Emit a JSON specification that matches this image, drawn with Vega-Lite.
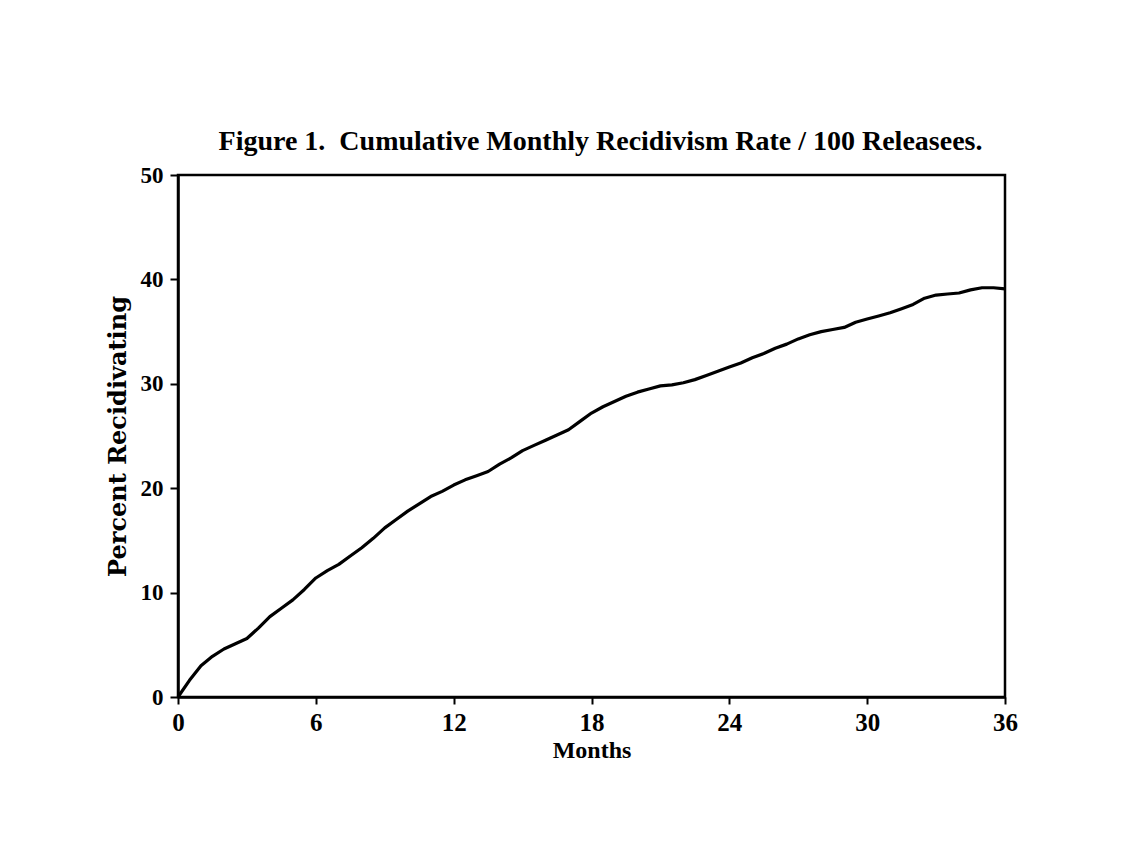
{
  "$schema": "https://vega.github.io/schema/vega-lite/v6.json",
  "autosize": "none",
  "width": 827,
  "height": 522,
  "padding": {"left": 178, "top": 175, "right": 126, "bottom": 154},
  "background": "white",
  "title": {
    "text": "Figure 1.\u00a0 Cumulative Monthly Recidivism Rate / 100 Releasees.",
    "font": "Liberation Serif",
    "fontSize": 28,
    "fontWeight": "bold",
    "color": "black",
    "anchor": "middle",
    "dx": 9,
    "baseline": "alphabetic",
    "offset": -14
  },
  "config": {
    "view": {"stroke": "black", "strokeWidth": 2.5},
    "axis": {
      "labelFont": "Liberation Serif",
      "labelFontWeight": "bold",
      "labelColor": "black",
      "titleFont": "Liberation Serif",
      "titleFontWeight": "bold",
      "titleColor": "black",
      "domainColor": "black",
      "domainWidth": 2.5,
      "tickColor": "black",
      "tickWidth": 2,
      "grid": false
    }
  },
  "data": {
    "values": [
      {"month": 0, "value": 0},
      {"month": 0.5, "value": 1.6},
      {"month": 1, "value": 3.0},
      {"month": 1.5, "value": 3.9},
      {"month": 2, "value": 4.6},
      {"month": 2.5, "value": 5.1},
      {"month": 3, "value": 5.6},
      {"month": 3.5, "value": 6.6},
      {"month": 4, "value": 7.7},
      {"month": 4.5, "value": 8.5},
      {"month": 5, "value": 9.3},
      {"month": 5.5, "value": 10.3},
      {"month": 6, "value": 11.4},
      {"month": 6.5, "value": 12.1},
      {"month": 7, "value": 12.7},
      {"month": 7.5, "value": 13.5},
      {"month": 8, "value": 14.3},
      {"month": 8.5, "value": 15.2},
      {"month": 9, "value": 16.2},
      {"month": 9.5, "value": 17.0},
      {"month": 10, "value": 17.8},
      {"month": 10.5, "value": 18.5},
      {"month": 11, "value": 19.2},
      {"month": 11.5, "value": 19.7},
      {"month": 12, "value": 20.3},
      {"month": 12.5, "value": 20.8},
      {"month": 13, "value": 21.2},
      {"month": 13.5, "value": 21.6},
      {"month": 14, "value": 22.3},
      {"month": 14.5, "value": 22.9},
      {"month": 15, "value": 23.6},
      {"month": 15.5, "value": 24.1},
      {"month": 16, "value": 24.6},
      {"month": 16.5, "value": 25.1},
      {"month": 17, "value": 25.6},
      {"month": 17.5, "value": 26.4},
      {"month": 18, "value": 27.2},
      {"month": 18.5, "value": 27.8},
      {"month": 19, "value": 28.3},
      {"month": 19.5, "value": 28.8},
      {"month": 20, "value": 29.2},
      {"month": 20.5, "value": 29.5},
      {"month": 21, "value": 29.8},
      {"month": 21.5, "value": 29.9},
      {"month": 22, "value": 30.1},
      {"month": 22.5, "value": 30.4},
      {"month": 23, "value": 30.8},
      {"month": 23.5, "value": 31.2},
      {"month": 24, "value": 31.6},
      {"month": 24.5, "value": 32.0},
      {"month": 25, "value": 32.5},
      {"month": 25.5, "value": 32.9},
      {"month": 26, "value": 33.4},
      {"month": 26.5, "value": 33.8},
      {"month": 27, "value": 34.3},
      {"month": 27.5, "value": 34.7},
      {"month": 28, "value": 35.0},
      {"month": 28.5, "value": 35.2},
      {"month": 29, "value": 35.4},
      {"month": 29.5, "value": 35.9},
      {"month": 30, "value": 36.2},
      {"month": 30.5, "value": 36.5},
      {"month": 31, "value": 36.8},
      {"month": 31.5, "value": 37.2},
      {"month": 32, "value": 37.6},
      {"month": 32.5, "value": 38.2},
      {"month": 33, "value": 38.5},
      {"month": 33.5, "value": 38.6},
      {"month": 34, "value": 38.7},
      {"month": 34.5, "value": 39.0},
      {"month": 35, "value": 39.2},
      {"month": 35.5, "value": 39.2},
      {"month": 36, "value": 39.1}
    ]
  },
  "mark": {"type": "line", "color": "black", "strokeWidth": 3.2, "strokeJoin": "round"},
  "encoding": {
    "x": {
      "field": "month",
      "type": "quantitative",
      "scale": {"domain": [0, 36], "nice": false, "zero": false},
      "axis": {
        "title": "Months",
        "values": [0, 6, 12, 18, 24, 30, 36],
        "labelFontSize": 25,
        "titleFontSize": 24,
        "tickSize": 7,
        "labelPadding": 6,
        "titlePadding": 3,
        "labelFlush": false
      }
    },
    "y": {
      "field": "value",
      "type": "quantitative",
      "scale": {"domain": [0, 50], "nice": false},
      "axis": {
        "title": "Percent Recidivating",
        "titleFont": "DejaVu Serif",
        "values": [0, 10, 20, 30, 40, 50],
        "labelFontSize": 23,
        "titleFontSize": 24,
        "tickSize": 8,
        "labelPadding": 7,
        "titlePadding": 10,
        "labelFlush": false
      }
    }
  }
}
